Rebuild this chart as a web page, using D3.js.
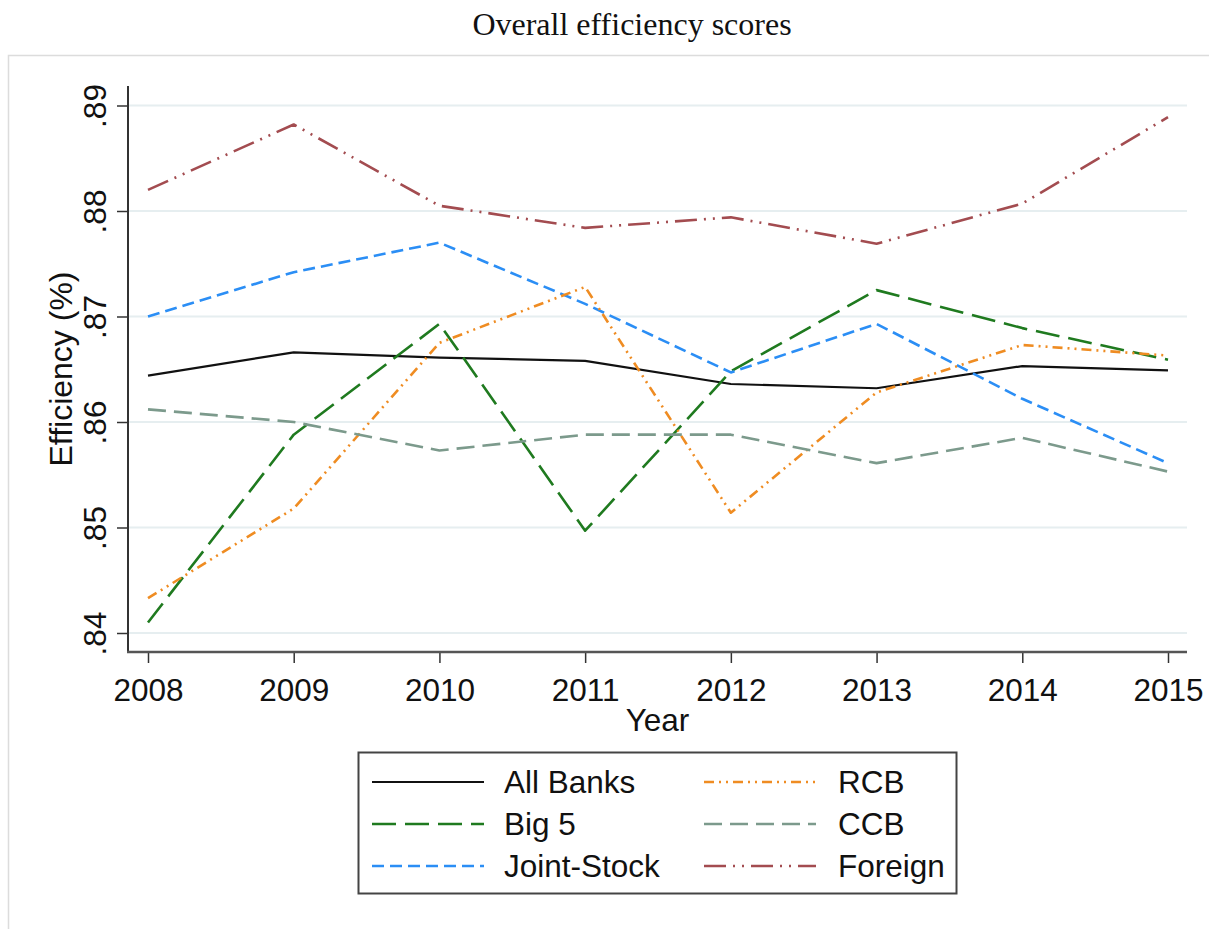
<!DOCTYPE html>
<html>
<head>
<meta charset="utf-8">
<script src="https://cdn.jsdelivr.net/npm/d3@7"></script>
<style>
	body { margin: 0; background: #fff; }
	svg text { font-family: "Liberation Sans", Arial, sans-serif; fill: #111; }
</style>
</head>
<body>
<div id="chart"></div>
<script>
const years = [2008, 2009, 2010, 2011, 2012, 2013, 2014, 2015];
const yTicks = [0.84, 0.85, 0.86, 0.87, 0.88, 0.89];

const allBanks   = [0.8644, 0.8666, 0.8661, 0.8658, 0.8636, 0.8632, 0.8653, 0.8649];
const big5       = [0.8410, 0.8588, 0.8693, 0.8497, 0.8648, 0.8725, 0.8689, 0.8659];
const jointStock = [0.8700, 0.8742, 0.8770, 0.8712, 0.8647, 0.8693, 0.8622, 0.8561];
const rcb        = [0.8433, 0.8518, 0.8675, 0.8728, 0.8514, 0.8628, 0.8673, 0.8663];
const ccb        = [0.8612, 0.8600, 0.8573, 0.8588, 0.8588, 0.8561, 0.8585, 0.8553];
const foreign    = [0.8820, 0.8882, 0.8805, 0.8784, 0.8794, 0.8769, 0.8807, 0.8889];

const seriesNames = ['All Banks', 'Big 5', 'Joint-Stock', 'RCB', 'CCB', 'Foreign'];

const series = [
	{ name: seriesNames[0], values: allBanks,   color: '#111111', dash: null,              width: 2.2 },
	{ name: seriesNames[1], values: big5,       color: '#1f7a1f', dash: '24,9',            width: 2.6 },
	{ name: seriesNames[2], values: jointStock, color: '#2b8ef5', dash: '12,6',            width: 2.6 },
	{ name: seriesNames[3], values: rcb,        color: '#ef8c22', dash: '10,5,2,5,2,5',    width: 2.6 },
	{ name: seriesNames[4], values: ccb,        color: '#7c9a8c', dash: '18,8',            width: 2.6 },
	{ name: seriesNames[5], values: foreign,    color: '#a34c50', dash: '22,7,2,7,2,7',    width: 2.6 }
];

const width = 1209, height = 929;
const plot = { left: 128, right: 1187, top: 86, bottom: 652 };
const fontSize = '31.5px';

const svg = d3.select('#chart').append('svg')
	.attr('width', width)
	.attr('height', height);

// title + outer frame
svg.append('text')
	.attr('x', 632)
	.attr('y', 35)
	.attr('text-anchor', 'middle')
	.style('font-family', '"Liberation Serif", "Times New Roman", serif')
	.style('font-size', '32px')
	.text('Overall efficiency scores');

svg.append('rect')
	.attr('x', 8.5).attr('y', 55.5)
	.attr('width', 1220).attr('height', 900)
	.attr('fill', 'none')
	.attr('stroke', '#dcdcdc')
	.attr('stroke-width', 1.5);

const xScale = d3.scaleLinear()
	.domain([2008, 2015])
	.range([148, 1168]);

const yScale = d3.scaleLinear()
	.domain([0.84, 0.89])
	.range([633, 105.5]);

// gridlines
svg.append('g')
	.selectAll('line')
	.data(yTicks)
	.enter()
	.append('line')
		.attr('x1', plot.left)
		.attr('x2', plot.right)
		.attr('y1', d => yScale(d))
		.attr('y2', d => yScale(d))
		.attr('stroke', '#e6eef0')
		.attr('stroke-width', 2);

// axes
const yAxis = d3.axisLeft(yScale)
	.tickValues(yTicks)
	.tickSize(11)
	.tickFormat(d => d3.format('.2f')(d).replace(/^0/, ''));

const gy = svg.append('g')
	.attr('transform', `translate(${plot.left}, 0)`)
	.call(yAxis);
gy.select('.domain').remove();
gy.selectAll('.tick line').attr('stroke', '#333').attr('stroke-width', 1.5);
gy.selectAll('.tick text')
	.attr('x', null).attr('dy', null)
	.attr('text-anchor', 'middle')
	.attr('transform', 'translate(-22, 0) rotate(-90)')
	.style('font-size', fontSize);

const xAxis = d3.axisBottom(xScale)
	.tickValues(years)
	.tickSize(11)
	.tickPadding(15)
	.tickFormat(d3.format('d'));

const gx = svg.append('g')
	.attr('transform', `translate(0, ${plot.bottom})`)
	.call(xAxis);
gx.select('.domain').remove();
gx.selectAll('.tick line').attr('stroke', '#333').attr('stroke-width', 1.5);
gx.selectAll('.tick text')
	.attr('dy', '0.72em')
	.style('font-size', fontSize);

svg.append('line')
	.attr('x1', plot.left).attr('x2', plot.left)
	.attr('y1', plot.top).attr('y2', plot.bottom + 1)
	.attr('stroke', '#333').attr('stroke-width', 2);
svg.append('line')
	.attr('x1', plot.left - 1).attr('x2', plot.right)
	.attr('y1', plot.bottom).attr('y2', plot.bottom)
	.attr('stroke', '#555').attr('stroke-width', 2.5);

// axis titles
svg.append('text')
	.attr('x', (plot.left + plot.right) / 2)
	.attr('y', 731)
	.attr('text-anchor', 'middle')
	.style('font-size', fontSize)
	.text('Year');

svg.append('text')
	.attr('transform', `translate(72, ${(plot.top + plot.bottom) / 2}) rotate(-90)`)
	.attr('text-anchor', 'middle')
	.style('font-size', '32px')
	.text('Efficiency (%)');

// lines
const line = d3.line()
	.x((d, i) => xScale(years[i]))
	.y(d => yScale(d));

svg.append('g')
	.selectAll('path')
	.data(series)
	.enter()
	.append('path')
		.attr('d', d => line(d.values))
		.attr('fill', 'none')
		.attr('stroke', d => d.color)
		.attr('stroke-width', d => d.width)
		.attr('stroke-dasharray', d => d.dash)
		.attr('stroke-linejoin', 'round');

// legend
const legend = svg.append('g');
legend.append('rect')
	.attr('x', 358.5).attr('y', 752.5)
	.attr('width', 598).attr('height', 141)
	.attr('fill', '#fff')
	.attr('stroke', '#444')
	.attr('stroke-width', 2);

const legendPos = [
	{ col: 0, row: 0 }, { col: 0, row: 1 }, { col: 0, row: 2 },
	{ col: 1, row: 0 }, { col: 1, row: 1 }, { col: 1, row: 2 }
];
const colX = [372, 704];
const textX = [504, 838];
const rowY = [782, 824, 866];

const items = legend.selectAll('.item')
	.data(series)
	.enter()
	.append('g')
		.attr('class', 'item');

items.append('line')
	.attr('x1', (d, i) => colX[legendPos[i].col])
	.attr('x2', (d, i) => colX[legendPos[i].col] + 112)
	.attr('y1', (d, i) => rowY[legendPos[i].row])
	.attr('y2', (d, i) => rowY[legendPos[i].row])
	.attr('stroke', d => d.color)
	.attr('stroke-width', d => d.width)
	.attr('stroke-dasharray', d => d.dash);

items.append('text')
	.attr('x', (d, i) => textX[legendPos[i].col])
	.attr('y', (d, i) => rowY[legendPos[i].row])
	.attr('dy', '0.36em')
	.style('font-size', fontSize)
	.text(d => d.name);
</script>
</body>
</html>
